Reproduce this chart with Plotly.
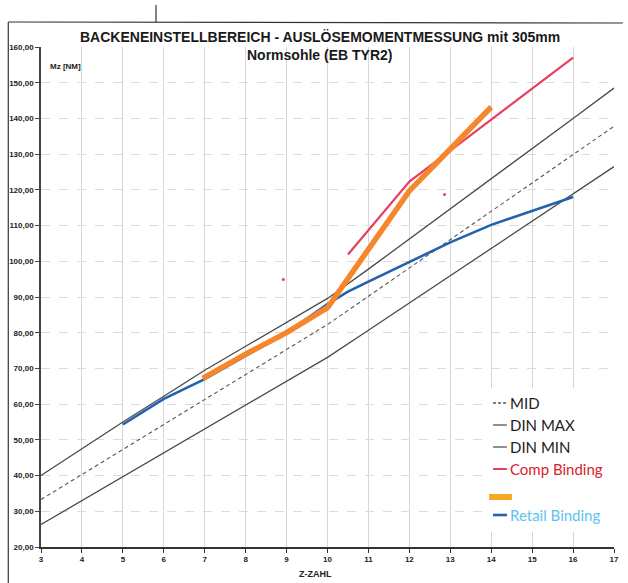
import plotly.graph_objects as go

# ---------------- data ----------------
z_vals = [3, 4, 5, 6, 7, 8, 9, 10, 11, 12, 13, 14, 15, 16, 17]
din_max = [40.0, 47.5, 55.0, 62.2, 69.5, 76.2, 83.0, 89.6, 97.8, 106.2, 114.7, 123.1, 131.6, 140.0, 148.5]
mid = [33.3, 40.3, 47.4, 54.4, 61.5, 68.3, 75.3, 82.3, 90.2, 98.1, 106.0, 113.9, 121.8, 129.7, 137.8]
din_min = [26.3, 33.0, 39.8, 46.5, 53.2, 59.8, 66.4, 73.1, 80.7, 88.3, 95.9, 103.5, 111.1, 118.7, 126.5]

retail_z = [5, 6, 7, 8, 9, 10, 10.5, 11, 12, 13, 14, 15, 16]
retail_mz = [54.3, 61.5, 67.0, 73.5, 80.0, 88.0, 91.5, 94.3, 99.8, 105.3, 110.2, 114.2, 118.0]

orange_z = [6.95, 8, 9, 10, 12, 13, 14]
orange_mz = [67.2, 74.0, 80.0, 87.0, 119.7, 131.5, 143.2]

comp_z = [10.5, 12, 13, 14, 15, 16]
comp_mz = [101.9, 122.3, 131.0, 139.7, 148.4, 157.0]

speck_z = [8.92, 12.86]
speck_mz = [94.9, 118.7]

y_ticks = list(range(20, 161, 10))
y_ticktext = [f"{v},00" for v in y_ticks]
x_ticks = list(range(3, 18))

title = "BACKENEINSTELLBEREICH - AUSLÖSEMOMENTMESSUNG mit 305mm"
subtitle = "Normsohle (EB TYR2)"
legend_names = ["MID", "DIN MAX", "DIN MIN", "Comp Binding", "Retail Binding"]

# ---------------- figure ----------------
W, H = 628, 583
ML, MR, MT, MB = 41, 9, 47, 36
PW, PH = W - ML - MR, H - MT - MB


def px(xp):
    return (xp - ML) / PW


def py(yp):
    return (H - MB - yp) / PH


fig = go.Figure()
fig.add_trace(go.Scatter(x=z_vals, y=din_min, mode="lines", line=dict(color="#4a4a4a", width=1.3)))
fig.add_trace(go.Scatter(x=z_vals, y=mid, mode="lines", line=dict(color="#555555", width=1.1, dash="4px,3px")))
fig.add_trace(go.Scatter(x=z_vals, y=din_max, mode="lines", line=dict(color="#4a4a4a", width=1.3)))
fig.add_trace(go.Scatter(x=retail_z, y=retail_mz, mode="lines", line=dict(color="#2262ae", width=2.6)))
fig.add_trace(go.Scatter(x=comp_z, y=comp_mz, mode="lines", line=dict(color="#e5405e", width=2.2)))
fig.add_trace(go.Scatter(x=orange_z, y=orange_mz, mode="lines", line=dict(color="#f5862b", width=5.5)))
fig.add_trace(go.Scatter(x=speck_z, y=speck_mz, mode="markers", marker=dict(color="#e5405e", size=3)))

font_main = "Liberation Sans, Arial, sans-serif"
leg_font = "Lato, Noto Sans, sans-serif"

fig.update_layout(
    width=W, height=H,
    margin=dict(l=ML, r=MR, t=MT, b=MB),
    paper_bgcolor="white", plot_bgcolor="white",
    showlegend=False,
    font=dict(family=font_main, color="#222"),
    xaxis=dict(
        range=[3, 17], tickvals=x_ticks, ticktext=[str(v) for v in x_ticks],
        showgrid=True, gridcolor="#d6d6d6", gridwidth=1,
        showline=True, linecolor="#333", linewidth=1.5,
        ticks="outside", ticklen=4, tickcolor="#333",
        tickfont=dict(size=8, family=font_main, color="#222", weight="bold"),
        zeroline=False, fixedrange=True,
    ),
    yaxis=dict(
        range=[20, 160], tickvals=y_ticks, ticktext=y_ticktext,
        showgrid=True, gridcolor="#dcdcdc", gridwidth=1, griddash="dash",
        showline=True, linecolor="#444", linewidth=1.5,
        ticks="outside", ticklen=4, tickcolor="#444",
        tickfont=dict(size=8, family=font_main, color="#222", weight="bold"),
        zeroline=False, fixedrange=True,
    ),
)

shapes = []
# scan frame
shapes.append(dict(type="line", xref="paper", yref="paper", x0=px(8), x1=px(628), y0=py(22), y1=py(23),
                   line=dict(color="#333", width=1.2)))
shapes.append(dict(type="line", xref="paper", yref="paper", x0=px(8), x1=px(8), y0=py(22), y1=py(583),
                   line=dict(color="#333", width=1.2)))
shapes.append(dict(type="line", xref="paper", yref="paper", x0=px(157), x1=px(157), y0=py(5), y1=py(22),
                   line=dict(color="#333", width=1.2)))
# legend background
shapes.append(dict(type="rect", xref="paper", yref="paper", x0=px(488), x1=px(628), y0=py(388), y1=py(532),
                   fillcolor="white", line=dict(width=0), layer="above"))

leg_rows = [
    (403, "#555555", "dot", 1.3, "MID", "#222"),
    (425, "#555555", "solid", 1.3, "DIN MAX", "#222"),
    (447, "#555555", "solid", 1.3, "DIN MIN", "#222"),
    (469, "#e5405e", "solid", 2.0, "Comp Binding", "#d9222e"),
    (515, "#2262ae", "solid", 2.6, "Retail Binding", "#5ec3f0"),
]
annotations = []
for yy, col, dash, wd, name, tcol in leg_rows:
    shapes.append(dict(type="line", xref="paper", yref="paper", x0=px(497), x1=px(511), y0=py(yy), y1=py(yy),
                       line=dict(color=col, width=wd, dash="3px,2px" if dash == "dot" else "solid"), layer="above"))
    annotations.append(dict(text=name, xref="paper", yref="paper", x=px(512), y=py(yy), xanchor="left",
                            yanchor="middle", showarrow=False, font=dict(family=leg_font, size=15, color=tcol)))
shapes.append(dict(type="line", xref="paper", yref="paper", x0=px(493), x1=px(516), y0=py(497), y1=py(497),
                   line=dict(color="#f7a823", width=6), layer="above"))

annotations.append(dict(text=f"<b>{title}</b>", xref="paper", yref="paper", x=px(322), y=py(37),
                        xanchor="center", yanchor="middle", showarrow=False,
                        font=dict(family=font_main, size=14, color="#1a1a1a")))
annotations.append(dict(text=f"<b>{subtitle}</b>", xref="paper", yref="paper", x=px(322), y=py(55),
                        xanchor="center", yanchor="middle", showarrow=False,
                        font=dict(family=font_main, size=14, color="#1a1a1a")))
annotations.append(dict(text="<b>Mz [NM]</b>", xref="paper", yref="paper", x=px(48), y=py(66),
                        xanchor="left", yanchor="middle", showarrow=False,
                        font=dict(family=font_main, size=8, color="#222")))
annotations.append(dict(text="<b>Z-ZAHL</b>", xref="paper", yref="paper", x=px(318), y=py(574),
                        xanchor="center", yanchor="middle", showarrow=False,
                        font=dict(family=font_main, size=9, color="#222")))

fig.update_layout(shapes=shapes, annotations=annotations)
fig.write_html("out.html")
